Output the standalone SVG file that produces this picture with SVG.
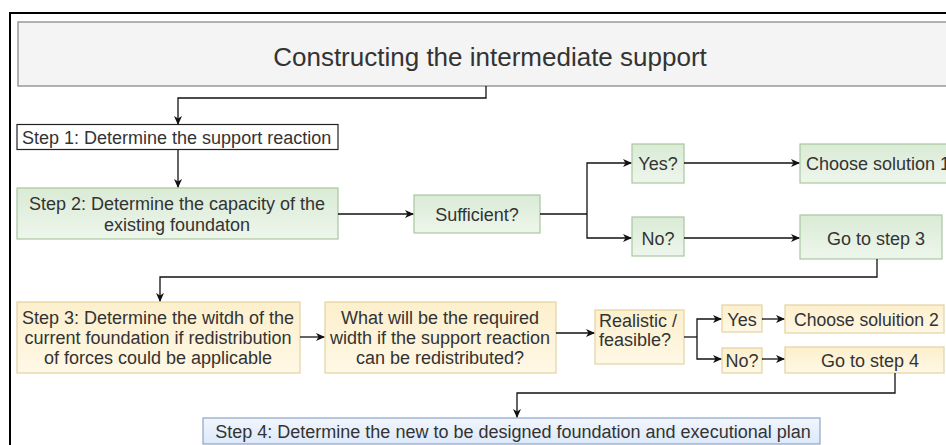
<svg xmlns="http://www.w3.org/2000/svg" width="946" height="445" viewBox="0 0 946 445">
<defs>
<linearGradient id="gG" x1="0" y1="0" x2="0" y2="1"><stop offset="0" stop-color="#d9ebd5"/><stop offset="1" stop-color="#eef6ec"/></linearGradient>
<linearGradient id="gY" x1="0" y1="0" x2="0" y2="1"><stop offset="0" stop-color="#fcefcc"/><stop offset="1" stop-color="#fff8e6"/></linearGradient>
<linearGradient id="gB" x1="0" y1="0" x2="0" y2="1"><stop offset="0" stop-color="#f2f6fd"/><stop offset="1" stop-color="#dce8fa"/></linearGradient>
<marker id="ah" markerWidth="10" markerHeight="10" refX="8" refY="5" orient="auto" markerUnits="userSpaceOnUse"><path d="M0,1 L9,5 L0,9 L2.5,5 Z" fill="#111"/></marker>
</defs>
<style>
text{font-family:"Liberation Sans",Arial,sans-serif;fill:#333;font-size:18px}
.g{fill:url(#gG);stroke:#a8c6a0;stroke-width:1.2}
.y{fill:url(#gY);stroke:#e3d3a0;stroke-width:1.2}
.b{fill:url(#gB);stroke:#8aa6c8;stroke-width:1.2}
.c path{fill:none;stroke:#111;stroke-width:1.3;marker-end:url(#ah)}
.c path.n{marker-end:none}
</style>
<rect x="0" y="0" width="946" height="445" fill="#fff"/>
<path d="M10,445 V13 H946" fill="none" stroke="#000" stroke-width="2"/>
<g id="title"><rect x="18" y="22" width="935" height="64" fill="#f4f4f4" stroke="#999" stroke-width="1.5"/><text x="490" y="66" text-anchor="middle" style="font-size:26px">Constructing the intermediate support</text></g>
<g id="step1"><rect x="17" y="124.5" width="321" height="25" fill="#fff" stroke="#222" stroke-width="1.2"/><text x="22" y="143.5">Step 1: Determine the support reaction</text></g>
<g id="step2"><rect x="17" y="188" width="321" height="51" class="g"/><text x="177" y="210" text-anchor="middle">Step 2: Determine the capacity of the</text><text x="177" y="231" text-anchor="middle">existing foundaton</text></g>
<g id="sufficient"><rect x="414" y="195" width="126" height="38" class="g"/><text x="477" y="220.5" text-anchor="middle">Sufficient?</text></g>
<g id="yes1"><rect x="632" y="144" width="52" height="39" class="g"/><text x="658" y="169.5" text-anchor="middle">Yes?</text></g>
<g id="no1"><rect x="632" y="217" width="52" height="39" class="g"/><text x="658" y="244.5" text-anchor="middle">No?</text></g>
<g id="sol1"><rect x="800" y="144" width="160" height="39" class="g"/><text x="806" y="169.5">Choose solution 1</text></g>
<g id="goto3"><rect x="800" y="215" width="142" height="44" class="g"/><text x="876" y="244.5" text-anchor="middle">Go to step 3</text></g>
<g id="step3"><rect x="17" y="302" width="283" height="71" class="y"/><text x="158" y="323.5" text-anchor="middle">Step 3: Determine the witdh of the</text><text x="158" y="343.5" text-anchor="middle">current foundation if redistribution</text><text x="158" y="364" text-anchor="middle">of forces could be applicable</text></g>
<g id="required"><rect x="325" y="302" width="231" height="71" class="y"/><text x="440" y="323.5" text-anchor="middle">What will be the required</text><text x="440" y="343.5" text-anchor="middle">width if the support reaction</text><text x="440" y="364" text-anchor="middle">can be redistributed?</text></g>
<g id="realistic"><rect x="595" y="310" width="89" height="54" class="y"/><text x="599" y="326.5">Realistic /</text><text x="599" y="345.5">feasible?</text></g>
<g id="yes2"><rect x="722" y="305" width="40" height="27" class="y"/><text x="742" y="325.5" text-anchor="middle">Yes</text></g>
<g id="no2"><rect x="722" y="348" width="40" height="25" class="y"/><text x="742" y="366.5" text-anchor="middle">No?</text></g>
<g id="sol2"><rect x="785" y="305" width="159" height="28" class="y"/><text x="794" y="325.5" style="font-size:17.6px">Choose soluition 2</text></g>
<g id="goto4"><rect x="785" y="347" width="159" height="26" class="y"/><text x="870" y="366.5" text-anchor="middle">Go to step 4</text></g>
<g id="step4"><rect x="203" y="418" width="617" height="26" class="b"/><text x="513" y="438" text-anchor="middle">Step 4: Determine the new to be designed foundation and executional plan</text></g>
<g class="c" id="connectors">
<path d="M486,86 V98 H178 V124"/>
<path d="M178,150 V187"/>
<path d="M338,214 H413"/>
<path class="n" d="M540,214 H587"/>
<path d="M587,214 V163 H631"/>
<path d="M587,214 V238 H631"/>
<path d="M684,163 H799"/>
<path d="M684,238 H799"/>
<path d="M877,259 V277 H160 V301"/>
<path d="M300,337 H324"/>
<path d="M556,333 H594"/>
<path class="n" d="M684,337 H697"/>
<path d="M697,337 V319 H721"/>
<path d="M697,337 V359 H721"/>
<path d="M762,319 H784"/>
<path d="M762,359 H784"/>
<path d="M895,373 V393 H517 V417"/>
</g>
</svg>
